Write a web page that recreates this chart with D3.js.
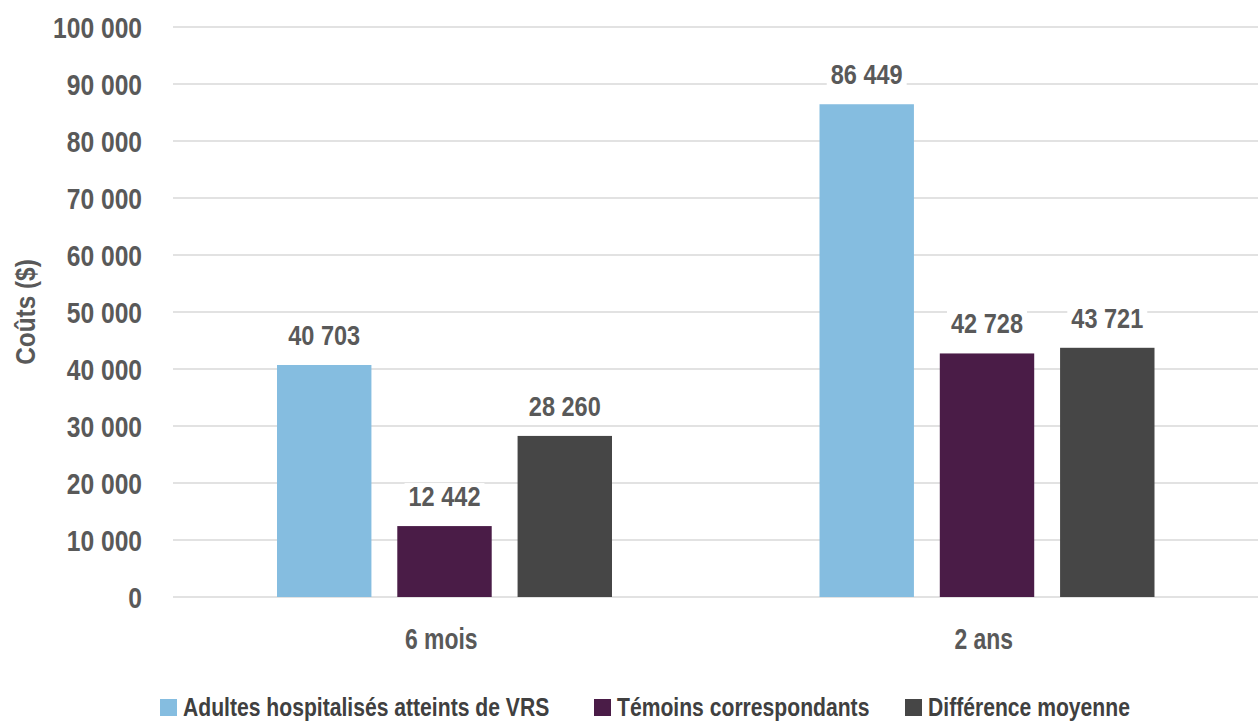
<!DOCTYPE html>
<html lang="fr">
<head>
<meta charset="utf-8">
<script src="https://cdn.jsdelivr.net/npm/d3@7"></script>
<style>
  html, body { margin: 0; padding: 0; background: #fff; }
  svg { display: block; }
  text { font-family: "Liberation Sans", Arial, sans-serif; font-weight: bold; }
</style>
</head>
<body>
<svg id="chart" width="1258" height="722"></svg>
<script>
// Coûts moyens par période de suivi
const categories = ["6 mois", "2 ans"];
const seriesNames = ["Adultes hospitalisés atteints de VRS", "Témoins correspondants", "Différence moyenne"];
const seriesColors = ["#85bde0", "#4a1c47", "#464646"];
const adultesVRS = [40703, 86449];
const temoins = [12442, 42728];
const difference = [28260, 43721];
const yTicks = [0, 10000, 20000, 30000, 40000, 50000, 60000, 70000, 80000, 90000, 100000];
const yTitle = "Coûts ($)";

const seriesValues = [adultesVRS, temoins, difference];
const rows = [];
categories.forEach((c, ci) => {
  seriesNames.forEach((s, si) => rows.push({ cat: c, series: s, si, value: seriesValues[si][ci] }));
});

const fmt = v => d3.format(",")(v).replace(/,/g, " ");

// Resserre les glyphes pour obtenir un rendu de police condensée
function condense(sel, k) {
  sel.each(function () {
    const w = this.getComputedTextLength();
    d3.select(this).attr("textLength", w * k).attr("lengthAdjust", "spacingAndGlyphs");
  });
}

const svg = d3.select("#chart");
const plotLeft = 173, plotRight = 1258, plotTop = 27, plotBottom = 597;

const x = d3.scaleBand().domain(categories).range([plotLeft, plotRight]).padding(0);
const xInner = d3.scaleBand().domain(seriesNames)
  .range([104, x.bandwidth() - 103.5]).paddingInner(0.215).paddingOuter(0);
const y = d3.scaleLinear().domain([0, 100000]).range([plotBottom, plotTop]);

// Grille horizontale
svg.append("g")
  .selectAll("line").data(yTicks).join("line")
  .attr("x1", plotLeft).attr("x2", plotRight)
  .attr("y1", d => y(d)).attr("y2", d => y(d))
  .attr("stroke", "#d9d9d9").attr("stroke-width", 1.6);

// Axe des y (étiquettes seulement)
const yAxis = d3.axisLeft(y).tickValues(yTicks).tickFormat(fmt).tickSize(0).tickPadding(0);
const gy = svg.append("g").attr("transform", "translate(142,0)").call(yAxis);
gy.select(".domain").remove();
gy.attr("font-family", null).attr("font-size", null);
gy.selectAll("text")
  .attr("fill", "#595959").attr("font-size", 30).attr("dy", "0.36em")
  .call(condense, 0.82);

// Titre de l'axe des y
svg.append("text")
  .attr("transform", `translate(35,${(plotTop + plotBottom) / 2}) rotate(-90)`)
  .attr("text-anchor", "middle")
  .attr("fill", "#595959").attr("font-size", 28)
  .text(yTitle)
  .call(condense, 0.87);

// Axe des x (catégories)
const xAxis = d3.axisBottom(x).tickSize(0).tickPadding(0);
const gx = svg.append("g").attr("transform", `translate(-3,${plotBottom})`).call(xAxis);
gx.select(".domain").remove();
gx.attr("font-family", null).attr("font-size", null);
gx.selectAll("text")
  .attr("fill", "#595959").attr("font-size", 29).attr("y", 52).attr("dy", 0)
  .call(condense, 0.79);

// Barres
const groups = svg.append("g").selectAll("g").data(categories).join("g")
  .attr("transform", d => `translate(${x(d)},0)`);

groups.selectAll("rect").data(c => rows.filter(r => r.cat === c)).join("rect")
  .attr("x", d => xInner(d.series))
  .attr("width", xInner.bandwidth())
  .attr("y", d => y(d.value))
  .attr("height", d => y(0) - y(d.value))
  .attr("fill", d => seriesColors[d.si]);

// Étiquettes de valeur avec fond blanc
const labels = groups.selectAll("g.lbl").data(c => rows.filter(r => r.cat === c)).join("g")
  .attr("class", "lbl")
  .attr("transform", d => `translate(${xInner(d.series) + xInner.bandwidth() / 2},${y(d.value) - 20})`);
labels.append("rect").attr("fill", "#fff");
labels.append("text")
  .attr("text-anchor", "middle")
  .attr("fill", "#595959").attr("font-size", 28)
  .text(d => fmt(d.value))
  .call(condense, 0.84);
labels.each(function () {
  const g = d3.select(this);
  const b = g.select("text").node().getBBox();
  g.select("rect").attr("x", b.x - 4).attr("y", b.y + 2).attr("width", b.width + 8).attr("height", b.height);
});

// Légende
const legendX = [160, 594, 905];
const legend = svg.append("g").selectAll("g").data(seriesNames).join("g")
  .attr("transform", (d, i) => `translate(${legendX[i]},699)`);
legend.append("rect").attr("width", 17).attr("height", 17).attr("fill", (d, i) => seriesColors[i]);
legend.append("text")
  .attr("x", 23).attr("y", 17)
  .attr("fill", "#404040").attr("font-size", 25)
  .text(d => d)
  .call(condense, 0.845);
</script>
</body>
</html>
